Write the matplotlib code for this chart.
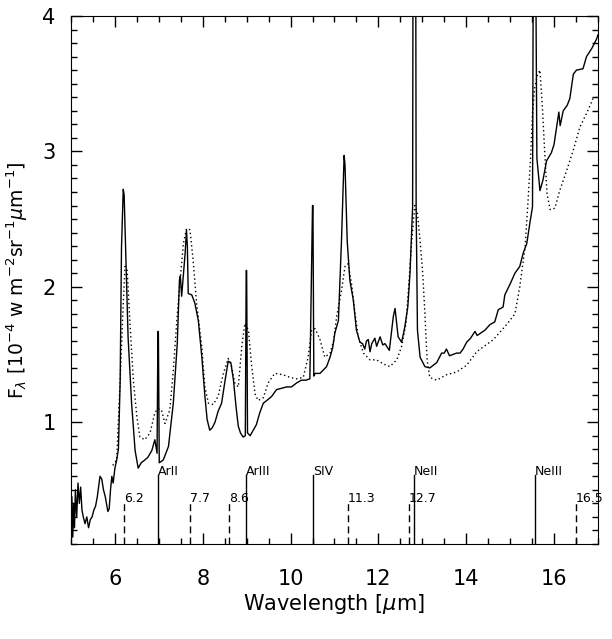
import numpy as np
import matplotlib
matplotlib.use("Agg")
import matplotlib.pyplot as plt
from matplotlib.ticker import MultipleLocator

# observed spectrum (solid)
wl_obs = [5.00, 5.02, 5.04, 5.06, 5.08, 5.10, 5.13, 5.16, 5.19, 5.22, 5.25, 5.28,
          5.32, 5.36, 5.40, 5.44, 5.48, 5.52, 5.56, 5.60, 5.66, 5.70, 5.74, 5.78,
          5.84, 5.87, 5.90, 5.93, 5.96, 6.00, 6.04, 6.08, 6.12, 6.15, 6.19, 6.21,
          6.23, 6.25, 6.30, 6.38, 6.46, 6.53, 6.60, 6.68, 6.75, 6.84, 6.91, 6.96,
          6.98, 6.99, 7.01, 7.10, 7.22, 7.33, 7.42, 7.47, 7.49, 7.52, 7.60, 7.63,
          7.65, 7.67, 7.75, 7.82, 7.90, 7.98, 8.05, 8.10, 8.16, 8.22, 8.28, 8.35,
          8.43, 8.51, 8.58, 8.64, 8.70, 8.76, 8.81, 8.86, 8.92, 8.97, 8.99, 9.00,
          9.02, 9.08, 9.15, 9.22, 9.30, 9.38, 9.46, 9.57, 9.68, 9.80, 9.91, 10.02,
          10.14, 10.25, 10.35, 10.44, 10.50, 10.51, 10.53, 10.56, 10.67, 10.82,
          10.90, 10.96, 11.01, 11.09, 11.16, 11.22, 11.24, 11.29, 11.35, 11.43,
          11.50, 11.58, 11.64, 11.69, 11.73, 11.77, 11.81, 11.85, 11.92, 11.96,
          12.04, 12.10, 12.15, 12.25, 12.34, 12.38, 12.45, 12.53, 12.60, 12.67,
          12.72, 12.78, 12.79, 12.85, 12.86, 12.89, 12.95, 13.06, 13.17, 13.33,
          13.44, 13.50, 13.55, 13.62, 13.78, 13.86, 13.93, 14.01, 14.10, 14.20,
          14.25, 14.43, 14.54, 14.65, 14.73, 14.84, 14.88, 15.00, 15.11, 15.22,
          15.30, 15.38, 15.45, 15.51, 15.53, 15.58, 15.61, 15.68, 15.75, 15.83,
          15.94, 16.00, 16.06, 16.11, 16.14, 16.21, 16.30, 16.36, 16.44, 16.51,
          16.66, 16.74, 16.86, 16.97, 17.00]
fl_obs = [0.20, 0.45, 0.15, 0.40, 0.22, 0.50, 0.30, 0.55, 0.40, 0.52, 0.35, 0.30,
          0.25, 0.30, 0.22, 0.28, 0.30, 0.35, 0.38, 0.45, 0.60, 0.58, 0.50, 0.45,
          0.34, 0.36, 0.50, 0.60, 0.55, 0.66, 0.72, 0.80, 1.31, 2.29, 2.72, 2.68,
          2.45, 2.20, 1.63, 1.14, 0.79, 0.66, 0.70, 0.72, 0.74, 0.79, 0.87, 0.77,
          1.67, 1.67, 0.70, 0.72, 0.82, 1.14, 1.58, 2.05, 2.08, 1.93, 2.25, 2.42,
          2.30, 1.95, 1.94, 1.88, 1.75, 1.48, 1.19, 1.02, 0.94, 0.96, 1.00, 1.08,
          1.14, 1.31, 1.45, 1.44, 1.31, 1.11, 0.97, 0.92, 0.89, 0.90, 2.12, 2.12,
          0.92, 0.90, 0.94, 0.98, 1.07, 1.14, 1.16, 1.19, 1.24, 1.25, 1.26, 1.26,
          1.29, 1.31, 1.31, 1.32, 2.60, 2.60, 1.34, 1.36, 1.36, 1.41,
          1.48, 1.55, 1.66, 1.75, 2.34, 2.97, 2.90, 2.34, 2.05, 1.90,
          1.68, 1.59, 1.58, 1.54, 1.60, 1.61, 1.52, 1.58, 1.62, 1.56,
          1.63, 1.57, 1.58, 1.53, 1.78, 1.84, 1.63, 1.59, 1.70, 1.85,
          2.10, 2.59, 4.60, 4.60, 2.60, 1.68, 1.48, 1.41, 1.40, 1.44,
          1.51, 1.51, 1.54, 1.49, 1.51, 1.51, 1.54, 1.59, 1.62, 1.67,
          1.64, 1.68, 1.72, 1.74, 1.83, 1.85, 1.94, 2.02, 2.10, 2.15,
          2.25, 2.32, 2.47, 2.59, 4.60, 4.60, 2.95, 2.71, 2.79, 2.93,
          2.99, 3.05, 3.18, 3.29, 3.19, 3.30, 3.34, 3.39, 3.57, 3.60,
          3.61, 3.70, 3.76, 3.83, 3.86]

# model (dotted)
wl_mod = [5.95, 6.04, 6.12, 6.18, 6.23, 6.28, 6.34, 6.42, 6.50, 6.57, 6.68, 6.80,
          6.91, 6.98, 7.06, 7.14, 7.25, 7.33, 7.41, 7.50, 7.56, 7.63, 7.71, 7.78,
          7.86, 7.98, 8.05, 8.13, 8.24, 8.35, 8.47, 8.58, 8.65, 8.73, 8.81, 8.89,
          8.96, 9.04, 9.11, 9.19, 9.26, 9.38, 9.49, 9.64, 9.83, 9.99, 10.14, 10.29,
          10.40, 10.48, 10.56, 10.67, 10.78, 10.90, 10.98, 11.05, 11.16, 11.24,
          11.31, 11.39, 11.47, 11.54, 11.66, 11.81, 11.96, 12.11, 12.26, 12.42,
          12.53, 12.63, 12.70, 12.76, 12.83, 12.89, 12.95, 13.01, 13.06, 13.11,
          13.17, 13.33, 13.55, 13.78, 14.01, 14.24, 14.62, 14.92, 15.11, 15.22,
          15.34, 15.41, 15.47, 15.51, 15.56, 15.62, 15.68, 15.74, 15.79, 15.84,
          15.91, 16.02, 16.13, 16.29, 16.44, 16.59, 16.74, 16.89, 16.97]
fl_mod = [0.68, 0.72, 1.31, 1.80, 2.15, 2.12, 1.75, 1.31, 1.04, 0.89, 0.87, 0.92,
          1.07, 1.10, 1.09, 0.99, 1.09, 1.38, 1.75, 2.10, 2.32, 2.43, 2.42, 2.20,
          1.88, 1.55, 1.26, 1.14, 1.13, 1.19, 1.36, 1.47, 1.42, 1.29, 1.26, 1.56,
          1.73, 1.68, 1.43, 1.21, 1.16, 1.18, 1.29, 1.36, 1.35, 1.33, 1.32, 1.33,
          1.48, 1.68, 1.69, 1.61, 1.48, 1.51, 1.60, 1.78, 1.97, 2.15,
          2.17, 2.02, 1.80, 1.63, 1.51, 1.46, 1.46, 1.43, 1.41, 1.46,
          1.56, 1.73, 2.05, 2.34, 2.60, 2.54, 2.34, 2.10, 1.80, 1.46,
          1.33, 1.31, 1.35, 1.37, 1.42, 1.52, 1.61, 1.72, 1.80, 2.00,
          2.29, 2.64, 2.98, 3.28, 3.47, 3.56, 3.60, 3.30, 2.98, 2.69,
          2.57, 2.58, 2.71, 2.86, 3.01, 3.18, 3.28, 3.39, 3.40]

# line identifications
ion_pos = [6.99, 8.99, 10.51, 12.81, 15.56]
ion_names = ["ArII", "ArIII", "SIV", "NeII", "NeIII"]
pah_pos = [6.2, 7.7, 8.6, 11.3, 12.7, 16.5]
pah_names = ["6.2", "7.7", "8.6", "11.3", "12.7", "16.5"]

fig = plt.figure(figsize=(6.12, 6.39), dpi=100)
ax = fig.add_axes([0.116, 0.1487, 0.861, 0.8263])

ax.plot(wl_obs, fl_obs, color="black", lw=1.0)
ax.plot(wl_mod, fl_mod, color="black", lw=1.0, linestyle=(0, (1, 2)))

ymin = 0.1
for x, name in zip(ion_pos, ion_names):
    ax.plot([x, x], [ymin, 0.61], color="black", lw=1.0)
    ax.text(x, 0.59, name, fontsize=9, ha="left", va="bottom")
for x, name in zip(pah_pos, pah_names):
    ax.plot([x, x], [ymin, 0.40], color="black", lw=1.0, linestyle=(0, (5, 3)))
    ax.text(x, 0.385, name, fontsize=9, ha="left", va="bottom", clip_on=False)

ax.set_xlim(5, 17)
ax.set_ylim(ymin, 4.0)
ax.xaxis.set_major_locator(MultipleLocator(2))
ax.xaxis.set_minor_locator(MultipleLocator(0.5))
ax.yaxis.set_major_locator(MultipleLocator(1))
ax.yaxis.set_minor_locator(MultipleLocator(0.1))
ax.tick_params(which="both", direction="in", top=True, right=True, width=1)
ax.tick_params(which="major", length=8, labelsize=15)
ax.tick_params(axis="x", which="major", pad=18)
ax.tick_params(axis="y", which="major", pad=11)
ax.tick_params(which="minor", length=4.5)

ax.set_xlabel(r"Wavelength [$\mu$m]", fontsize=15, labelpad=2)
ax.set_ylabel(r"F$_\lambda$ [10$^{-4}$ w m$^{-2}$sr$^{-1}$$\mu$m$^{-1}$]",
              fontsize=13.5, labelpad=9)

fig.savefig("out.png", dpi=100)
